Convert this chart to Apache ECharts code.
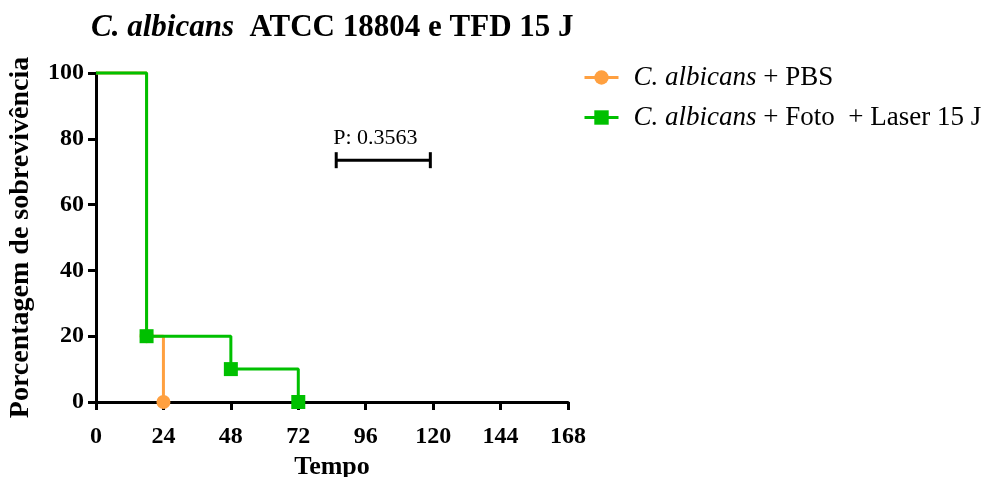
<!DOCTYPE html>
<html>
<head>
<meta charset="utf-8">
<script src="https://cdn.jsdelivr.net/npm/echarts@6/dist/echarts.min.js"></script>
<style>
  html, body { margin: 0; padding: 0; background: #fff; }
  #chart { width: 987px; height: 477px; }
</style>
</head>
<body>
<div id="chart"></div>
<script>
// Kaplan–Meier survival curves (time in hours, survival in %)
const pbsTimes = [0, 18, 24];
const pbsSurvival = [100, 20, 0];
const laserTimes = [0, 18, 48, 72];
const laserSurvival = [100, 20, 10, 0];

const xTicks = [0, 24, 48, 72, 96, 120, 144, 168];
const yTicks = [0, 20, 40, 60, 80, 100];

const seriesNames = ['C. albicans + PBS', 'C. albicans + Foto  + Laser 15 J'];

// log-rank comparison bracket
const pValueText = 'P: 0.3563';
const pBracketFrom = 85.5;
const pBracketTo = 119;
const pBracketLevel = 73.5;

const FONT = '"Liberation Serif", "Times New Roman", serif';
const ORANGE = '#FFA040';
const GREEN = '#00C000';

function buildPoints(times, values) {
  // first point is the start of the curve, no marker there
  return times.map((t, i) => i === 0
    ? { value: [t, values[i]], symbol: 'none' }
    : { value: [t, values[i]] });
}

const chart = echarts.init(document.getElementById('chart'), null, { renderer: 'canvas' });

const option = {
  animation: false,
  backgroundColor: '#fff',
  title: {
    text: '{i|C. albicans}  ATCC 18804 e TFD 15 J',
    left: 86,
    top: 7,
    textStyle: {
      fontFamily: FONT,
      fontSize: 31,
      fontWeight: 'bold',
      color: '#000',
      rich: {
        i: { fontFamily: FONT, fontSize: 31, fontWeight: 'bold', fontStyle: 'italic', color: '#000' }
      }
    }
  },
  legend: {
    orient: 'vertical',
    left: 578,
    top: 59,
    itemGap: 13,
    itemWidth: 34,
    itemHeight: 18,
    data: seriesNames,
    lineStyle: { width: 3 },
    formatter: function (name) {
      const rest = name.replace('C. albicans', '');
      return '{i|C. albicans}' + rest;
    },
    textStyle: {
      fontFamily: FONT,
      fontSize: 27,
      color: '#000',
      padding: [0, 0, 0, 10],
      rich: {
        i: { fontFamily: FONT, fontSize: 27, fontStyle: 'italic', color: '#000' }
      }
    }
  },
  grid: { left: 96, right: 419, top: 73, bottom: 75, containLabel: false, outerBoundsMode: 'none' },
  xAxis: {
    type: 'value',
    min: 0,
    max: 168,
    interval: 24,
    name: 'Tempo',
    nameLocation: 'middle',
    nameGap: 50,
    nameTextStyle: { fontFamily: FONT, fontSize: 26, fontWeight: 'bold', color: '#000' },
    axisLine: { show: true, onZero: false, lineStyle: { color: '#000', width: 3 } },
    axisTick: { show: true, length: 8, lineStyle: { color: '#000', width: 3 } },
    axisLabel: {
      fontFamily: FONT, fontSize: 24, fontWeight: 'bold', color: '#000', margin: 23,
      formatter: v => xTicks.includes(v) ? String(v) : ''
    },
    splitLine: { show: false }
  },
  yAxis: {
    type: 'value',
    min: 0,
    max: 100,
    interval: 20,
    name: 'Porcentagem de sobrevivência',
    nameLocation: 'middle',
    nameGap: 61,
    nameRotate: 90,
    nameTextStyle: { fontFamily: FONT, fontSize: 28, fontWeight: 'bold', color: '#000' },
    axisLine: { show: true, lineStyle: { color: '#000', width: 3 } },
    axisTick: { show: true, length: 8, lineStyle: { color: '#000', width: 3 } },
    axisLabel: {
      fontFamily: FONT, fontSize: 24, fontWeight: 'bold', color: '#000', margin: 12,
      formatter: v => yTicks.includes(v) ? String(v) : ''
    },
    splitLine: { show: false }
  },
  series: [
    {
      name: seriesNames[0],
      type: 'line',
      step: 'end',
      data: buildPoints(pbsTimes, pbsSurvival),
      symbol: 'circle',
      symbolSize: 14,
      showAllSymbol: true,
      lineStyle: { color: ORANGE, width: 3 },
      itemStyle: { color: ORANGE, borderWidth: 0 },
      z: 2,
      clip: false
    },
    {
      name: seriesNames[1],
      type: 'line',
      step: 'end',
      data: buildPoints(laserTimes, laserSurvival),
      symbol: 'rect',
      symbolSize: 14,
      showAllSymbol: true,
      lineStyle: { color: GREEN, width: 3 },
      itemStyle: { color: GREEN, borderWidth: 0 },
      z: 3,
      clip: false
    }
  ]
};

chart.setOption(option);

// p-value bracket placed in data coordinates
function drawBracket() {
  const a = chart.convertToPixel({ gridIndex: 0 }, [pBracketFrom, pBracketLevel]);
  const b = chart.convertToPixel({ gridIndex: 0 }, [pBracketTo, pBracketLevel]);
  const cap = 8;
  chart.setOption({
    graphic: [
      { type: 'line', shape: { x1: a[0], y1: a[1], x2: b[0], y2: b[1] }, style: { stroke: '#000', lineWidth: 3 } },
      { type: 'line', shape: { x1: a[0], y1: a[1] - cap, x2: a[0], y2: a[1] + cap }, style: { stroke: '#000', lineWidth: 3 } },
      { type: 'line', shape: { x1: b[0], y1: b[1] - cap, x2: b[0], y2: b[1] + cap }, style: { stroke: '#000', lineWidth: 3 } },
      {
        type: 'text',
        x: a[0] - 3,
        y: a[1] - 11,
        style: {
          text: pValueText,
          font: '22px ' + FONT,
          fill: '#000',
          textAlign: 'left',
          textVerticalAlign: 'bottom'
        }
      }
    ]
  });
}
drawBracket();
</script>
</body>
</html>
